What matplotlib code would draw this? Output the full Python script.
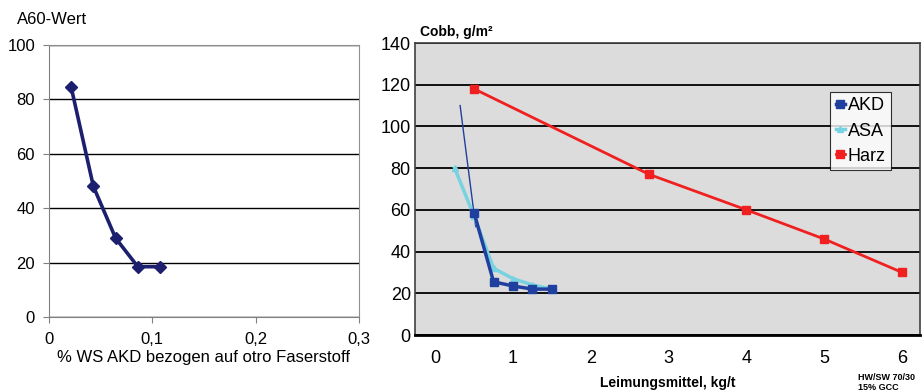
import matplotlib.pyplot as plt
import numpy as np

plt.rcParams['font.family'] = ['Liberation Sans', 'DejaVu Sans']

# left chart data
ws_akd = [0.0215, 0.043, 0.0645, 0.086, 0.1075]
a60 = [84.5, 48, 29, 18.5, 18.5]

# right chart data
akd_x = [0.5, 0.75, 1.0, 1.25, 1.5]
akd_y = [58.5, 25.5, 23.5, 22, 22]
asa_x = [0.25, 0.5, 0.75, 1.0, 1.25, 1.5]
asa_y = [80, 57, 32, 27, 24, 22]
harz_x = [0.5, 2.75, 4, 5, 6]
harz_y = [118, 77, 60, 46, 30]
trend_x = [0.32, 0.52]
trend_y = [110, 52]

fig = plt.figure(figsize=(9.22, 3.92), dpi=100)

# ---- left
ax1 = fig.add_axes([0.0531, 0.1913, 0.3362, 0.6939])
ax1.plot(ws_akd, a60, color='#1c1f6e', lw=2.6, marker='D', ms=6, clip_on=False, zorder=3)
ax1.set_xlim(0, 0.3)
ax1.set_ylim(0, 100)
ax1.set_xticks([0, 0.1, 0.2, 0.3])
ax1.set_xticklabels(['0', '0,1', '0,2', '0,3'])
ax1.set_yticks([0, 20, 40, 60, 80, 100])
ax1.grid(axis='y', color='black', lw=1)
ax1.set_axisbelow(True)
for s in ['top', 'right']:
    ax1.spines[s].set_color('#909090')
for s in ['left', 'bottom']:
    ax1.spines[s].set_color('#808080')
ax1.tick_params(labelsize=12, length=4, color='#808080')
ax1.tick_params(axis='x', pad=7)
ax1.tick_params(axis='y', pad=6)
ax1.set_xlabel('% WS AKD bezogen auf otro Faserstoff', fontsize=12, labelpad=2)
fig.text(17/922, 1 - 20/392, 'A60-Wert', fontsize=12, va='center')

# ---- right
ax2 = fig.add_axes([0.4501, 0.1454, 0.5477, 0.7449])
ax2.set_facecolor('#dcdcdc')
ax2.plot(trend_x, trend_y, color='#2040a0', lw=1, zorder=3)
ax2.plot(asa_x, asa_y, color='#78d2e0', lw=2.5, marker='^', ms=5, label='ASA', zorder=4)
ax2.plot(akd_x, akd_y, color='#2040a0', lw=2.5, marker='s', ms=6, label='AKD', zorder=5)
ax2.plot(harz_x, harz_y, color='#f02020', lw=2, marker='s', ms=6, label='Harz', zorder=5)
ax2.set_xlim(-0.26, 6.23)
ax2.set_ylim(0, 140)
ax2.set_yticks(range(0, 141, 20))
ax2.set_xticks(range(0, 7))
ax2.grid(axis='y', color='black', lw=1.3)
ax2.set_axisbelow(True)
for s in ax2.spines.values():
    s.set_color('#404040')
    s.set_linewidth(1.2)
ax2.spines['bottom'].set_color('black')
ax2.spines['bottom'].set_linewidth(2)
ax2.tick_params(axis='y', labelsize=13, length=0, pad=3)
ax2.tick_params(axis='x', labelsize=13, length=0, pad=11)
ax2.set_xlabel('Leimungsmittel, kg/t', fontsize=10, fontweight='bold', labelpad=6)
fig.text(420/922, 1 - 32/392, 'Cobb, g/m²', fontsize=10, fontweight='bold', va='center')
fig.text(858/922, 1 - 378/392, 'HW/SW 70/30', fontsize=6.5, fontweight='bold', va='center')
fig.text(858/922, 1 - 387/392, '15% GCC', fontsize=6.5, fontweight='bold', va='center')

h, l = ax2.get_legend_handles_labels()
order = [1, 0, 2]
leg = ax2.legend([h[i] for i in order], [l[i] for i in order], loc='upper right',
                 bbox_to_anchor=(0.9426, 0.832), fontsize=13, frameon=True, fancybox=False,
                 edgecolor='black', handlelength=0.5, handletextpad=0.15, borderpad=0.3,
                 borderaxespad=0, labelspacing=0.45, markerscale=0.9)
leg.get_frame().set_linewidth(0.8)

fig.savefig('out.png', dpi=100)
